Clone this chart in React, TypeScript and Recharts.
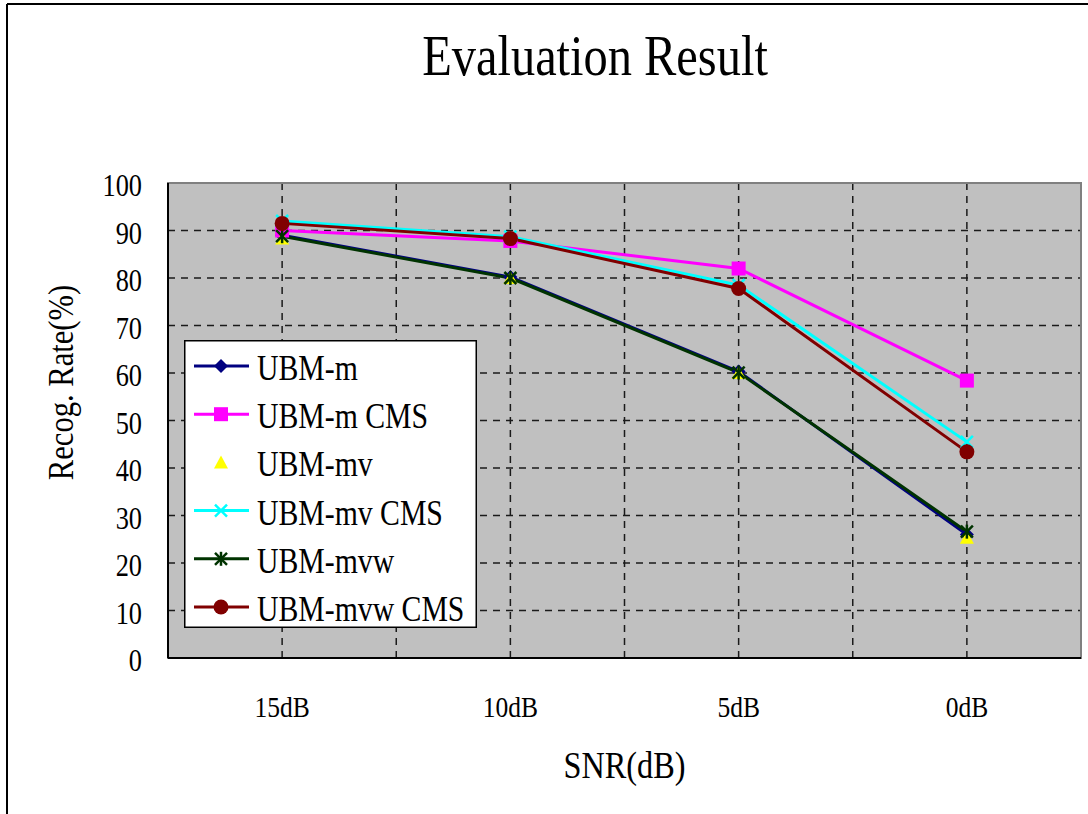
import React from 'react'
import {
  LineChart, Line, XAxis, YAxis, CartesianGrid, Legend, ReferenceArea,
} from 'recharts'

// ── data ──────────────────────────────────────────────────────────────────────

const categories = ['15dB', '10dB', '5dB', '0dB']
const yTicks = [0, 10, 20, 30, 40, 50, 60, 70, 80, 90, 100]

const ubmM = [89.0, 80.2, 60.3, 26.0]
const ubmMCms = [90.0, 87.8, 82.0, 58.4]
const ubmMv = [88.3, 80.0, 60.0, 25.3]
const ubmMvCms = [92.0, 88.7, 78.5, 45.5]
const ubmMvw = [88.8, 80.0, 60.1, 26.6]
const ubmMvwCms = [91.5, 88.3, 77.8, 43.4]

// ── styling ───────────────────────────────────────────────────────────────────

const SERIF = '"Liberation Serif", "Times New Roman", serif'
const SQUEEZE = 0.85 // the chart's serif face is narrow, so squash Liberation a bit

type Shape = 'diamond' | 'square' | 'triangle' | 'cross' | 'star' | 'circle'

interface SeriesDef {
  key: string
  name: string
  values: number[]
  color: string
  shape: Shape
  showLine: boolean
}

const series: SeriesDef[] = [
  { key: 'm', name: 'UBM-m', values: ubmM, color: '#000080', shape: 'diamond', showLine: true },
  { key: 'mCms', name: 'UBM-m CMS', values: ubmMCms, color: '#FF00FF', shape: 'square', showLine: true },
  { key: 'mv', name: 'UBM-mv', values: ubmMv, color: '#FFFF00', shape: 'triangle', showLine: false },
  { key: 'mvCms', name: 'UBM-mv CMS', values: ubmMvCms, color: '#00FFFF', shape: 'cross', showLine: true },
  { key: 'mvw', name: 'UBM-mvw', values: ubmMvw, color: '#003300', shape: 'star', showLine: true },
  { key: 'mvwCms', name: 'UBM-mvw CMS', values: ubmMvwCms, color: '#800000', shape: 'circle', showLine: true },
]

// categories sit at the middle of equal-width slots: 0.5, 1.5, ...
const chartData = categories.map((name, i) => {
  const row: Record<string, number | string> = { pos: i + 0.5, name }
  for (const s of series) row[s.key] = s.values[i]
  return row
})

const xTicks = [0.5, 1, 1.5, 2, 2.5, 3, 3.5]

// ── markers ───────────────────────────────────────────────────────────────────

function Marker({ shape, cx, cy, color }: { shape: Shape; cx: number; cy: number; color: string }) {
  const h = 7
  switch (shape) {
    case 'diamond':
      return <polygon points={`${cx},${cy - h} ${cx + h},${cy} ${cx},${cy + h} ${cx - h},${cy}`} fill={color} />
    case 'square':
      return <rect x={cx - h} y={cy - h} width={h * 2} height={h * 2} fill={color} />
    case 'triangle':
      return <polygon points={`${cx},${cy - h} ${cx + h},${cy + 6} ${cx - h},${cy + 6}`} fill={color} />
    case 'cross':
      return (
        <g stroke={color} strokeWidth={2.5}>
          <line x1={cx - 6} y1={cy - 6} x2={cx + 6} y2={cy + 6} />
          <line x1={cx - 6} y1={cy + 6} x2={cx + 6} y2={cy - 6} />
        </g>
      )
    case 'star':
      return (
        <g stroke={color} strokeWidth={2.5}>
          <line x1={cx - 6} y1={cy - 6} x2={cx + 6} y2={cy + 6} />
          <line x1={cx - 6} y1={cy + 6} x2={cx + 6} y2={cy - 6} />
          <line x1={cx} y1={cy - 7} x2={cx} y2={cy + 7} />
        </g>
      )
    default:
      return <circle cx={cx} cy={cy} r={7.5} fill={color} />
  }
}

// ── axis ticks & labels ───────────────────────────────────────────────────────

function SerifText({ x, y, size, anchor, rotate = 0, children }: {
  x: number; y: number; size: number; anchor: 'start' | 'middle' | 'end'; rotate?: number; children: React.ReactNode
}) {
  return (
    <text
      transform={`translate(${x},${y}) rotate(${rotate}) scale(${SQUEEZE},1)`}
      textAnchor={anchor}
      fontFamily={SERIF}
      fontSize={size}
      fill="#000"
    >
      {children}
    </text>
  )
}

function XTick(props: any) {
  const { x, y, payload } = props
  const v = payload.value as number
  if (v % 1 !== 0.5) return <g />
  return <SerifText x={x} y={y} size={30} anchor="middle">{categories[Math.floor(v)]}</SerifText>
}

function YTick(props: any) {
  const { x, y, payload } = props
  return <SerifText x={x} y={y + 13} size={31} anchor="end">{payload.value}</SerifText>
}

function XTitle(props: any) {
  const { x, width, y } = props.viewBox
  return <SerifText x={x + width / 2} y={y + 120} size={38} anchor="middle">SNR(dB)</SerifText>
}

function YTitle(props: any) {
  const { x, y, height } = props.viewBox
  return <SerifText x={x - 35} y={y + height / 2 - 38} size={36} anchor="middle" rotate={-90}>Recog. Rate(%)</SerifText>
}

// ── legend ────────────────────────────────────────────────────────────────────

const LEGEND_W = 293
const LEGEND_H = 288

function LegendBox() {
  return (
    <svg width={LEGEND_W} height={LEGEND_H} style={{ display: 'block' }}>
      <rect x={0.75} y={0.75} width={LEGEND_W - 1.5} height={LEGEND_H - 1.5} fill="#fff" stroke="#000" strokeWidth={1.5} />
      {series.map((s, i) => {
        const cy = 26 + i * 48.2
        return (
          <g key={s.key}>
            {s.showLine && <line x1={10} y1={cy} x2={65} y2={cy} stroke={s.color} strokeWidth={3} />}
            <Marker shape={s.shape} cx={37} cy={cy} color={s.color} />
            <SerifText x={73} y={cy + 14} size={35} anchor="start">{s.name}</SerifText>
          </g>
        )
      })}
    </svg>
  )
}

// ── chart ─────────────────────────────────────────────────────────────────────

export default function App() {
  return (
    <div style={{ position: 'absolute', left: 0, top: 0, width: 1088, height: 814, background: '#fff', overflow: 'hidden' }}>
      {/* outer frame and title */}
      <svg width={1088} height={814} style={{ position: 'absolute', left: 0, top: 0 }}>
        <line x1={7} y1={4} x2={1088} y2={4} stroke="#000" strokeWidth={2} />
        <line x1={7} y1={4} x2={7} y2={814} stroke="#000" strokeWidth={2} />
        <SerifText x={595} y={75} size={57} anchor="middle">Evaluation Result</SerifText>
      </svg>

      <div style={{ position: 'absolute', left: 0, top: 0 }}>
        <LineChart
          width={1088}
          height={814}
          data={chartData}
          margin={{ top: 183, right: 7, left: 108, bottom: 96 }}
        >
          <CartesianGrid
            stroke="#1a1a1a"
            strokeWidth={1.5}
            strokeDasharray="7 6"
            fill="#C0C0C0"
            fillOpacity={1}
          />
          <ReferenceArea x1={0} x2={4} y1={0} y2={100} fill="none" stroke="#808080" strokeWidth={2} />
          <XAxis
            dataKey="pos"
            type="number"
            domain={[0, 4]}
            ticks={xTicks}
            interval={0}
            height={60}
            tickLine={false}
            tickSize={0}
            tickMargin={59}
            tick={<XTick />}
            axisLine={{ stroke: '#000', strokeWidth: 2 }}
            label={{ content: <XTitle /> }}
          />
          <YAxis
            domain={[0, 100]}
            ticks={yTicks}
            interval={0}
            width={60}
            tickLine={false}
            tickSize={0}
            tickMargin={26}
            tick={<YTick />}
            axisLine={{ stroke: '#000', strokeWidth: 2 }}
            label={{ content: <YTitle /> }}
          />
          <Legend
            layout="vertical"
            align="center"
            verticalAlign="middle"
            content={<LegendBox />}
            wrapperStyle={{ left: 184, top: 340, width: LEGEND_W, height: LEGEND_H }}
          />
          {series.map((s) => (
            <Line
              key={s.key}
              dataKey={s.key}
              name={s.name}
              type="linear"
              stroke={s.showLine ? s.color : 'none'}
              strokeWidth={3}
              isAnimationActive={false}
              dot={(p: any) => (
                <Marker key={`${s.key}-${p.index}`} shape={s.shape} cx={p.cx} cy={p.cy} color={s.color} />
              )}
              activeDot={false}
            />
          ))}
        </LineChart>
      </div>
    </div>
  )
}
